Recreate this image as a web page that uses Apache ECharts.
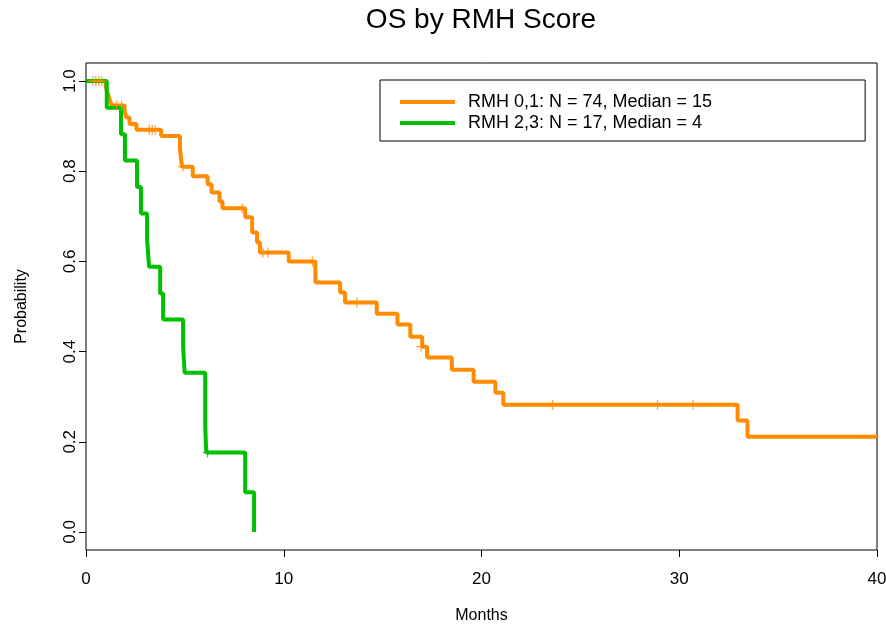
<!DOCTYPE html>
<html>
<head>
<meta charset="utf-8">
<script src="https://cdn.jsdelivr.net/npm/echarts@6/dist/echarts.min.js"></script>
<style>
html,body{margin:0;padding:0;background:#fff;}
#chart{width:886px;height:626px;}
</style>
</head>
<body>
<div id="chart"></div>
<script>
// ---- data ----
const seriesNames = ['RMH 0,1: N = 74, Median = 15', 'RMH 2,3: N = 17, Median = 4'];
const orangeTimes = [0, 1.0, 1.1, 1.2, 1.3, 1.95, 2.05, 2.2, 2.55, 3.8, 4.75, 4.85, 5.4, 6.15, 6.35, 6.75, 6.9, 8.05, 8.4, 8.65, 8.8, 10.25, 11.6, 12.85, 13.1, 14.7, 15.75, 16.4, 17.0, 17.25, 18.5, 19.6, 20.7, 21.1, 32.95, 33.45, 40];
const orangeSurv  = [1, 0.986, 0.973, 0.959, 0.946, 0.932, 0.919, 0.905, 0.892, 0.878, 0.851, 0.81, 0.789, 0.771, 0.753, 0.733, 0.718, 0.698, 0.664, 0.642, 0.62, 0.60, 0.553, 0.531, 0.509, 0.484, 0.46, 0.433, 0.411, 0.387, 0.36, 0.333, 0.309, 0.282, 0.247, 0.211, 0.211];
const orangeCensorTimes = [0.35, 0.5, 0.65, 0.8, 1.55, 1.8, 3.2, 3.35, 3.5, 4.9, 7.9, 8.95, 9.2, 11.45, 13.7, 16.95, 23.6, 28.9, 30.7];
const orangeCensorSurv  = [1, 1, 1, 1, 0.946, 0.946, 0.892, 0.892, 0.892, 0.81, 0.718, 0.62, 0.62, 0.60, 0.509, 0.411, 0.282, 0.282, 0.282];
const greenTimes = [0, 1.05, 1.77, 1.97, 2.58, 2.78, 3.09, 3.19, 3.75, 3.9, 4.91, 4.99, 6.03, 6.08, 8.05, 8.5];
const greenSurv  = [1, 0.941, 0.882, 0.824, 0.765, 0.706, 0.647, 0.588, 0.529, 0.471, 0.412, 0.353, 0.235, 0.176, 0.088, 0];
const greenCensorTimes = [6.15];
const greenCensorSurv  = [0.176];
const xTicks = [0, 10, 20, 30, 40];
const yTicks = [0, 0.2, 0.4, 0.6, 0.8, 1.0];

const colors = ['#FF8C00', '#00C000'];
const FONT = 'Liberation Sans, Arial, sans-serif';
const zip = (a, b) => a.map((v, i) => [v, b[i]]);
const plusPath = 'path://M-0.12,-1H0.12V-0.12H1V0.12H0.12V1H-0.12V0.12H-1V-0.12H-0.12Z';
const legendLine = 'path://M0,0H55V4H0Z';

const chart = echarts.init(document.getElementById('chart'), null, {renderer: 'canvas'});
chart.setOption({
  animation: false,
  backgroundColor: '#fff',
  textStyle: {fontFamily: FONT},
  graphic: [{
    type: 'text', x: 481, y: 20,
    style: {text: 'OS by RMH Score', font: '28px ' + FONT, fill: '#000', textAlign: 'center', textVerticalAlign: 'middle'}
  }],
  grid: {left: 86, right: 9, top: 63, bottom: 76, show: true, borderColor: '#000', borderWidth: 1,
    backgroundColor: 'transparent', containLabel: false, outerBoundsMode: 'none'},
  legend: {
    orient: 'vertical', left: 380, top: 80,
    padding: [13, 153, 9, 20],
    borderColor: '#000', borderWidth: 1, borderRadius: 0,
    itemWidth: 55, itemHeight: 14, itemGap: 3,
    icon: legendLine,
    data: seriesNames,
    textStyle: {fontSize: 18, lineHeight: 18, color: '#000', fontFamily: FONT, padding: [0, 0, 0, 8]}
  },
  xAxis: {
    type: 'value', min: 0, max: 40, interval: 10,
    name: 'Months', nameLocation: 'middle', nameGap: 58,
    nameTextStyle: {fontSize: 16, color: '#000', fontFamily: FONT},
    axisLine: {show: false, onZero: false},
    axisTick: {show: true, inside: false, length: 7, lineStyle: {color: '#000', width: 1}, customValues: xTicks},
    axisLabel: {fontSize: 17, color: '#000', margin: 21, fontFamily: FONT, customValues: xTicks},
    splitLine: {show: false}
  },
  yAxis: {
    type: 'value', min: -0.04, max: 1.04,
    name: 'Probability', nameLocation: 'middle', nameGap: 56, nameRotate: 90,
    nameTextStyle: {fontSize: 16, color: '#000', fontFamily: FONT},
    axisLine: {show: false, onZero: false},
    axisTick: {show: true, inside: false, length: 7, lineStyle: {color: '#000', width: 1}, customValues: yTicks},
    axisLabel: {fontSize: 17, color: '#000', margin: 7, rotate: 90, fontFamily: FONT, customValues: yTicks,
      formatter: v => Number(v).toFixed(1)},
    splitLine: {show: false}
  },
  series: [
    {name: seriesNames[0], type: 'line', step: 'end', symbol: 'none', data: zip(orangeTimes, orangeSurv),
      lineStyle: {color: colors[0], width: 4}, itemStyle: {color: colors[0]}, z: 2},
    {name: seriesNames[1], type: 'line', step: 'end', symbol: 'none', data: zip(greenTimes, greenSurv),
      lineStyle: {color: colors[1], width: 4}, itemStyle: {color: colors[1]}, z: 3},
    {name: 'c1', type: 'scatter', symbol: plusPath, symbolSize: 10, data: zip(orangeCensorTimes, orangeCensorSurv),
      itemStyle: {color: colors[0]}, z: 4},
    {name: 'c2', type: 'scatter', symbol: plusPath, symbolSize: 10, data: zip(greenCensorTimes, greenCensorSurv),
      itemStyle: {color: colors[1]}, z: 4}
  ]
});
</script>
</body>
</html>
